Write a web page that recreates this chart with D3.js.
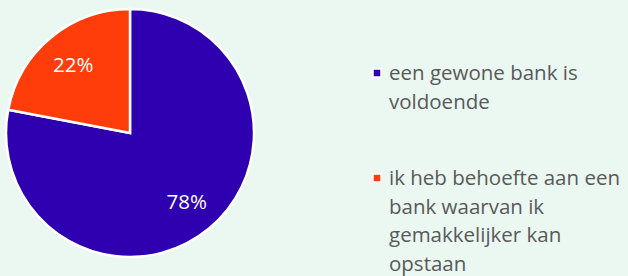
<!DOCTYPE html>
<html lang="nl">
<head>
    <meta charset="UTF-8">
    <title>Bank keuze</title>
    <script src="https://d3js.org/d3.v7.min.js"></script>
    <style>
        body { margin: 0; background: #ebf7f1; }
        .slice-label { font-family: "Open Sans", sans-serif; font-size: 20.5px; fill: #fff; text-anchor: middle; }
        .legend-text { font-family: "Open Sans", sans-serif; font-size: 20.5px; fill: #595959; }
    </style>
</head>
<body>
    <div id="chart"></div>
    <script>
        // Data
        const categories = ["een gewone bank is voldoende", "ik heb behoefte aan een bank waarvan ik gemakkelijker kan opstaan"];
        const values = [78, 22];
        const colors = ["#2e00b0", "#ff3d0a"];

        const width = 628, height = 276;
        const cx = 130, cy = 133, radius = 124;

        const svg = d3.select("#chart")
                      .append("svg")
                      .attr("width", width)
                      .attr("height", height);

        const pie = d3.pie().sort(null).value(d => d);
        const arc = d3.arc().innerRadius(0).outerRadius(radius);
        const labelArc = d3.arc().innerRadius(89).outerRadius(89);

        const g = svg.append("g").attr("transform", `translate(${cx},${cy})`);

        const arcs = pie(values);

        // Slices
        g.selectAll("path")
         .data(arcs)
         .join("path")
         .attr("d", arc)
         .attr("fill", (d, i) => colors[i])
         .attr("stroke", "#fff")
         .attr("stroke-width", 2.5)
         .attr("stroke-linejoin", "miter");

        // Percent labels
        g.selectAll("text")
         .data(arcs)
         .join("text")
         .attr("class", "slice-label")
         .attr("transform", d => `translate(${labelArc.centroid(d)})`)
         .attr("dy", "0.35em")
         .text(d => d.data + "%");

        // Legend
        const legendX = 373, textX = 389, lineH = 28.5;
        const legendStarts = [73, 178];
        const maxW = 242;

        const legend = svg.append("g");
        categories.forEach((cat, i) => {
            const y0 = legendStarts[i];
            legend.append("rect")
                  .attr("x", legendX)
                  .attr("y", y0 - 4)
                  .attr("width", 8)
                  .attr("height", 8)
                  .attr("fill", colors[i])
                  .attr("stroke", "#fff")
                  .attr("stroke-width", 1.5);

            const text = legend.append("text")
                               .attr("class", "legend-text")
                               .attr("x", textX)
                               .attr("y", y0);

            // Wrap words into lines
            const words = cat.split(" ");
            let line = [];
            let tspan = text.append("tspan").attr("x", textX).attr("dy", "0.35em");
            words.forEach(w => {
                line.push(w);
                tspan.text(line.join(" "));
                if (tspan.node().getComputedTextLength() > maxW && line.length > 1) {
                    line.pop();
                    tspan.text(line.join(" "));
                    line = [w];
                    tspan = text.append("tspan")
                                .attr("x", textX)
                                .attr("dy", lineH)
                                .text(w);
                }
            });
        });
    </script>
</body>
</html>
